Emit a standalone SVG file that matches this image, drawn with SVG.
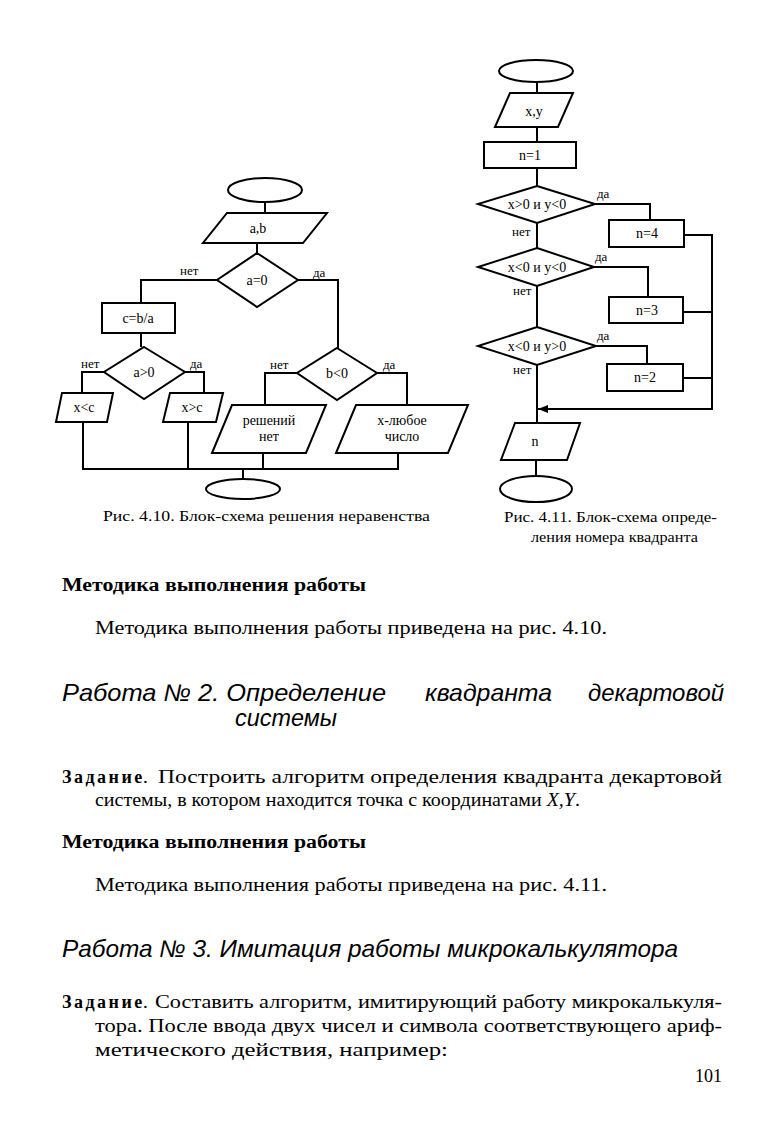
<svg xmlns="http://www.w3.org/2000/svg" width="779" height="1136" viewBox="0 0 779 1136">
<defs>
<marker id="arr" viewBox="0 0 10 10" refX="10" refY="5" markerWidth="10" markerHeight="10" markerUnits="userSpaceOnUse" orient="auto">
<path d="M0,1 L10,5 L0,9 Z" fill="#000"/>
</marker>
</defs>
<style>
.s{fill:#fff;stroke:#000;stroke-width:2}
.c{fill:none;stroke:#000;stroke-width:2}
.t{font-family:"Liberation Serif","DejaVu Serif",serif;font-size:14px;fill:#000;text-anchor:middle}
.l{font-family:"Liberation Serif","DejaVu Serif",serif;font-size:13px;fill:#000}
.cap{font-family:"Liberation Serif","DejaVu Serif",serif;font-size:14px;fill:#000}
.b{font-family:"Liberation Serif","DejaVu Serif",serif;font-size:19px;fill:#000}
.bb{font-family:"Liberation Serif","DejaVu Serif",serif;font-size:18px;font-weight:bold;fill:#000}
.h{font-family:"Liberation Sans","Arial",sans-serif;font-size:24px;font-style:italic;fill:#000}
</style>
<rect width="779" height="1136" fill="#fff"/>

<!-- connectors -->
<g id="connectors">
<path class="c" d="M265,202 V213"/>
<path class="c" d="M257,243 V253"/>
<path class="c" d="M217,280 H141 V303"/>
<path class="c" d="M298,280 H338 V348"/>
<path class="c" d="M141,333 V347"/>
<path class="c" d="M104,372 H82 V393"/>
<path class="c" d="M185,372 H204 V393"/>
<path class="c" d="M83,422 V469"/>
<path class="c" d="M188,422 V469"/>
<path class="c" d="M297,373 H265 V405"/>
<path class="c" d="M377,373 H407 V405"/>
<path class="c" d="M263,453 V469"/>
<path class="c" d="M398,453 V469"/>
<path class="c" d="M82,469 H399"/>
<path class="c" d="M243,469 V480"/>

<path class="c" d="M537,82 V93"/>
<path class="c" d="M537,127 V142"/>
<path class="c" d="M537,168 V186"/>
<path class="c" d="M595,204 H650 V220"/>
<path class="c" d="M537,223 V248"/>
<path class="c" d="M594,267 H648 V297"/>
<path class="c" d="M537,286 V327"/>
<path class="c" d="M596,346 H647 V364"/>
<path class="c" d="M537,365 V423"/>
<path class="c" d="M684,235 H712"/>
<path class="c" d="M683,312 H712"/>
<path class="c" d="M683,378 H712"/>
<path class="c" d="M712,234 V409 H538" marker-end="url(#arr)"/>
<path class="c" d="M536,460 V476"/>

<text class="l" x="180" y="275">нет</text>
<text class="l" x="313" y="277">да</text>
<text class="l" x="81" y="368">нет</text>
<text class="l" x="190" y="368">да</text>
<text class="l" x="270" y="369">нет</text>
<text class="l" x="383" y="369">да</text>
<text class="l" x="597" y="198">да</text>
<text class="l" x="512" y="236">нет</text>
<text class="l" x="595" y="261">да</text>
<text class="l" x="513" y="295">нет</text>
<text class="l" x="597" y="340">да</text>
<text class="l" x="513" y="374">нет</text>
</g>

<!-- left flowchart -->
<g id="start1"><ellipse class="s" cx="265" cy="190" rx="37" ry="12"/></g>
<g id="input_ab"><polygon class="s" points="227,213 327,213 303,243 203,243"/><text class="t" x="258" y="233">a,b</text></g>
<g id="cond_a0"><polygon class="s" points="257,253 298,280 257,307 217,280"/><text class="t" x="257" y="285">a=0</text></g>
<g id="calc_c"><rect class="s" x="102" y="303" width="73" height="30"/><text class="t" x="138" y="323">c=b/a</text></g>
<g id="cond_ag0"><polygon class="s" points="144,347 185,372 144,399 104,372"/><text class="t" x="144" y="377">a&gt;0</text></g>
<g id="out_xlc"><polygon class="s" points="62,393 113,393 107,422 56,422"/><text class="t" x="84" y="412">x&lt;c</text></g>
<g id="out_xgc"><polygon class="s" points="170,393 223,393 216,422 163,422"/><text class="t" x="192" y="412">x&gt;c</text></g>
<g id="cond_b0"><polygon class="s" points="337,348 377,373 337,400 297,373"/><text class="t" x="337" y="378">b&lt;0</text></g>
<g id="out_none"><polygon class="s" points="232,405 326,405 306,453 212,453"/><text class="t" x="269" y="425">решений</text><text class="t" x="269" y="441">нет</text></g>
<g id="out_any"><polygon class="s" points="356,405 468,405 448,453 336,453"/><text class="t" x="402" y="425">x-любое</text><text class="t" x="402" y="441">число</text></g>
<g id="end1"><ellipse class="s" cx="243" cy="489" rx="37" ry="10"/></g>
<text class="cap" x="103" y="521" textLength="327" lengthAdjust="spacingAndGlyphs">Рис. 4.10. Блок-схема решения неравенства</text>

<!-- right flowchart -->
<g id="start2"><ellipse class="s" cx="536" cy="71" rx="37" ry="11"/></g>
<g id="input_xy"><polygon class="s" points="510,93 573,93 558,127 495,127"/><text class="t" x="534" y="116">x,y</text></g>
<g id="init_n1"><rect class="s" x="484" y="142" width="92" height="26"/><text class="t" x="530" y="160">n=1</text></g>
<g id="cond1"><polygon class="s" points="537,186 595,204 537,223 478,204"/><text class="t" x="537" y="209">x&gt;0 и y&lt;0</text></g>
<g id="n4"><rect class="s" x="609" y="220" width="75" height="27"/><text class="t" x="647" y="238">n=4</text></g>
<g id="cond2"><polygon class="s" points="537,248 594,267 537,286 478,267"/><text class="t" x="537" y="272">x&lt;0 и y&lt;0</text></g>
<g id="n3"><rect class="s" x="609" y="297" width="74" height="26"/><text class="t" x="647" y="315">n=3</text></g>
<g id="cond3"><polygon class="s" points="537,327 596,346 537,365 478,346"/><text class="t" x="537" y="351">x&lt;0 и y&gt;0</text></g>
<g id="n2"><rect class="s" x="607" y="364" width="76" height="27"/><text class="t" x="645" y="382">n=2</text></g>
<g id="out_n"><polygon class="s" points="515,423 580,423 567,460 501,460"/><text class="t" x="535" y="446">n</text></g>
<g id="end2"><ellipse class="s" cx="536" cy="489" rx="36" ry="13"/></g>
<text class="cap" x="504" y="522" textLength="213" lengthAdjust="spacingAndGlyphs">Рис. 4.11. Блок-схема опреде-</text>
<text class="cap" x="531" y="542" textLength="167" lengthAdjust="spacingAndGlyphs">ления номера квадранта</text>

<!-- page text -->
<text class="bb" x="62" y="591" textLength="304" lengthAdjust="spacingAndGlyphs">Методика выполнения работы</text>
<text class="b" x="95" y="634" textLength="512" lengthAdjust="spacingAndGlyphs">Методика выполнения работы приведена на рис. 4.10.</text>
<text class="h" x="62" y="701" textLength="324" lengthAdjust="spacingAndGlyphs">Работа № 2. Определение</text>
<text class="h" x="425" y="701" textLength="127" lengthAdjust="spacingAndGlyphs">квадранта</text>
<text class="h" x="588" y="701" textLength="136" lengthAdjust="spacingAndGlyphs">декартовой</text>
<text class="h" x="235" y="726" textLength="102" lengthAdjust="spacingAndGlyphs">системы</text>
<text class="bb" x="62" y="783" letter-spacing="2.5">Задание</text>
<text class="b" x="143" y="783">.</text>
<text class="b" x="158" y="783" textLength="564" lengthAdjust="spacingAndGlyphs">Построить алгоритм определения квадранта декартовой</text>
<text class="b" x="95" y="806" textLength="485" lengthAdjust="spacingAndGlyphs">системы, в котором находится точка с координатами <tspan font-style="italic">X,Y</tspan>.</text>
<text class="bb" x="62" y="848" textLength="304" lengthAdjust="spacingAndGlyphs">Методика выполнения работы</text>
<text class="b" x="95" y="891" textLength="512" lengthAdjust="spacingAndGlyphs">Методика выполнения работы приведена на рис. 4.11.</text>
<text class="h" x="62" y="957" textLength="616" lengthAdjust="spacingAndGlyphs">Работа № 3. Имитация работы микрокалькулятора</text>
<text class="bb" x="62" y="1008" letter-spacing="2.5">Задание</text>
<text class="b" x="143" y="1008">.</text>
<text class="b" x="155" y="1008" textLength="567" lengthAdjust="spacingAndGlyphs">Составить алгоритм, имитирующий работу микрокалькуля-</text>
<text class="b" x="95" y="1032" textLength="627" lengthAdjust="spacingAndGlyphs">тора. После ввода двух чисел и символа соответствующего ариф-</text>
<text class="b" x="95" y="1056" textLength="353" lengthAdjust="spacingAndGlyphs">метического действия, например:</text>
<text class="b" x="695" y="1082" textLength="27" lengthAdjust="spacingAndGlyphs">101</text>
</svg>
